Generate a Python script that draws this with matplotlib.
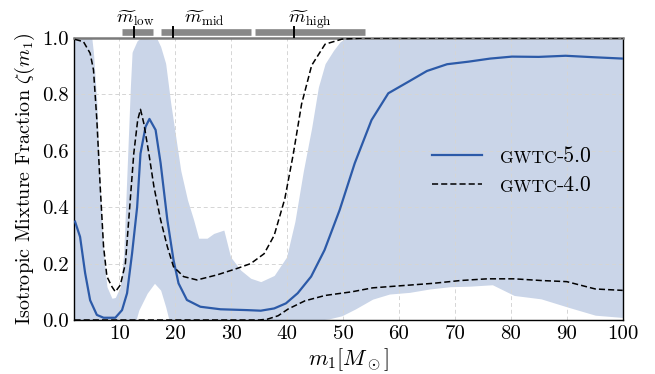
import numpy as np
import matplotlib
matplotlib.use("Agg")
import matplotlib.pyplot as plt
import matplotlib.transforms as mtransforms

plt.rcParams['font.family'] = 'serif'
plt.rcParams['font.serif'] = ['cmr10']
plt.rcParams['mathtext.fontset'] = 'cm'
plt.rcParams['axes.formatter.use_mathtext'] = True

# GWTC-5.0 median
m5 = [2.1, 3.0, 3.9, 4.8, 6.0, 7.2, 9.3, 10.5, 11.4, 12.3, 13.2, 13.8, 14.7, 15.4, 16.5, 17.4,
      18.6, 19.7, 20.6, 22.1, 24.5, 28.1, 32.9, 35.3, 37.7, 39.8, 41.9, 44.3, 46.7, 49.4, 52.1,
      55.1, 58.1, 61.7, 65.0, 68.6, 72.4, 76.3, 80.2, 85.0, 89.8, 94.6, 100.0]
z5 = [0.349, 0.295, 0.167, 0.07, 0.018, 0.008, 0.008, 0.035, 0.095, 0.237, 0.40, 0.59, 0.685, 0.713,
      0.674, 0.556, 0.355, 0.213, 0.13, 0.071, 0.047, 0.038, 0.035, 0.033, 0.041, 0.059, 0.095,
      0.154, 0.248, 0.39, 0.556, 0.709, 0.804, 0.845, 0.883, 0.907, 0.916, 0.927, 0.934, 0.933,
      0.937, 0.932, 0.927]

# GWTC-5.0 90% band, upper
mu = [2.0, 5.1, 5.4, 6.0, 6.6, 7.2, 7.8, 8.7, 9.3, 10.2, 10.8, 11.4, 12.0, 12.3, 13.2, 13.8, 16.8,
      17.4, 18.3, 19.2, 20.1, 21.0, 22.2, 23.3, 24.2, 25.7, 26.9, 28.7, 29.9, 31.7, 33.5, 35.3,
      37.7, 39.9, 41.4, 42.9, 44.4, 45.6, 46.8, 48.3, 49.5, 50.5, 100.0]
zu = [1.0, 1.0, 0.946, 0.77, 0.47, 0.237, 0.118, 0.077, 0.08, 0.118, 0.236, 0.53, 0.83, 0.95, 0.99,
      1.0, 0.995, 0.97, 0.91, 0.77, 0.65, 0.53, 0.426, 0.355, 0.29, 0.29, 0.307, 0.319, 0.224,
      0.177, 0.148, 0.136, 0.158, 0.223, 0.349, 0.527, 0.682, 0.826, 0.909, 0.956, 0.987, 1.0, 1.0]

# GWTC-5.0 90% band, lower
ml = [2.0, 13.0, 13.5, 15.0, 16.3, 17.4, 18.3, 18.9, 46.0, 47.5, 49.8, 52.2, 55.3, 58.3, 61.9,
      65.5, 69.1, 72.7, 76.7, 80.6, 85.4, 90.3, 95.1, 100.0]
zl = [0.0, 0.0, 0.035, 0.095, 0.13, 0.106, 0.047, 0.0, 0.0, 0.004, 0.015, 0.039, 0.074, 0.092,
      0.098, 0.11, 0.118, 0.12, 0.125, 0.087, 0.075, 0.045, 0.017, 0.009]

# GWTC-4.0 upper (dashed)
m4u = [2.1, 3.6, 4.8, 5.4, 6.0, 6.6, 7.2, 7.8, 8.7, 9.3, 10.2, 11.1, 11.7, 12.6, 13.3, 13.8, 14.4,
       15.3, 16.2, 17.4, 18.6, 19.7, 21.5, 23.9, 27.5, 31.1, 33.5, 35.9, 37.7, 39.6, 41.1, 42.6,
       44.4, 46.8, 49.8, 53.9, 100.0]
z4u = [0.995, 0.987, 0.946, 0.887, 0.709, 0.473, 0.26, 0.154, 0.118, 0.10, 0.124, 0.20, 0.355,
       0.59, 0.709, 0.747, 0.697, 0.59, 0.473, 0.355, 0.26, 0.189, 0.154, 0.142, 0.16, 0.183,
       0.2, 0.235, 0.30, 0.43, 0.587, 0.766, 0.903, 0.978, 0.996, 1.0, 1.0]

# GWTC-4.0 lower (dashed)
m4l = [2.0, 35.0, 36.5, 38.4, 40.2, 43.2, 46.8, 51.6, 55.3, 60.7, 66.1, 71.0, 75.8, 80.6, 85.4,
       90.0, 95.1, 100.0]
z4l = [0.0, 0.0, 0.003, 0.015, 0.039, 0.068, 0.087, 0.10, 0.114, 0.122, 0.13, 0.14, 0.146, 0.146,
       0.14, 0.136, 0.11, 0.105]

# Characteristic mass markers
bar_names = [r'$\widetilde{m}_{\rm low}$', r'$\widetilde{m}_{\rm mid}$', r'$\widetilde{m}_{\rm high}$']
bar_lo = [10.5, 17.5, 34.2]
bar_hi = [16.1, 33.6, 54.0]
bar_mark = [12.7, 19.6, 41.3]
label_left = [9.5, 21.6, 40.1]

series_names = ['GWTC', 'GWTC']
series_versions = ['-5.0', '-4.0']

xticks = [10, 20, 30, 40, 50, 60, 70, 80, 90, 100]
yticks = [0.0, 0.2, 0.4, 0.6, 0.8, 1.0]

fig = plt.figure(figsize=(6.55, 3.74), dpi=100)
ax = fig.add_axes([0.1137, 0.1444, 0.8370, 0.7540])

grid_x = np.linspace(2, 100, 2000)
up = np.interp(grid_x, mu, zu)
lo = np.interp(grid_x, ml, zl)
ax.fill_between(grid_x, lo, up, color='#cad5e8', lw=0, zorder=0.3)

l5, = ax.plot(m5, z5, color='#2c5aa8', lw=1.6, zorder=3)
l4, = ax.plot(m4u, z4u, color='black', ls=(0, (4, 2)), lw=1.1, zorder=3)
ax.plot(m4l, z4l, color='black', ls=(0, (4, 2)), lw=1.1, zorder=3)

ax.set_xlim(2, 100)
ax.set_ylim(0, 1.0)
ax.set_xticks(xticks)
ax.set_yticks(yticks)
ax.set_xticklabels([str(t) for t in xticks])
ax.set_yticklabels([f'{t:.1f}' for t in yticks])
ax.tick_params(direction='in', length=0, labelsize=15, pad=4)
ax.grid(True, ls=(0, (4, 3)), color='#d5d5d5', lw=0.7)
ax.set_axisbelow(True)

for s in ['left', 'right', 'bottom']:
    ax.spines[s].set_color('black')
    ax.spines[s].set_linewidth(1.0)
ax.spines['top'].set_color('#7a7a7a')
ax.spines['top'].set_linewidth(1.8)

ax.set_xlabel(r'$m_1 [M_\odot]$', fontsize=16, labelpad=2)
ax.set_ylabel(r'Isotropic Mixture Fraction $\zeta(m_1)$', fontsize=14.5, labelpad=4)

trans = mtransforms.blended_transform_factory(ax.transData, ax.transAxes)
for name, a, b, m, lx in zip(bar_names, bar_lo, bar_hi, bar_mark, label_left):
    ax.plot([a, b], [1.022, 1.022], transform=trans, color='#888888', lw=4.8,
            solid_capstyle='butt', clip_on=False, zorder=5)
    ax.plot([m, m], [1.004, 1.04], transform=trans, color='black', lw=1.4,
            clip_on=False, zorder=6)
    ax.text(lx, 1.055, name, transform=trans, ha='left', va='baseline',
            fontsize=13.5)

leg = ax.legend([l5, l4], series_names, loc='upper left', bbox_to_anchor=(0.652, 0.61),
                frameon=False, fontsize=15, handlelength=2.4, handletextpad=0.85,
                labelspacing=0.55, borderpad=0, borderaxespad=0)
for t in leg.get_texts():
    t.set_fontsize(12.5)

fig.canvas.draw()
for t, v in zip(leg.get_texts(), series_versions):
    bb = t.get_window_extent()
    ax.annotate(v, xy=(bb.x1 + 0.5, bb.y0 - 0.5), xycoords='figure pixels',
                ha='left', va='bottom', fontsize=15.5)

fig.savefig('out.png', dpi=100)
